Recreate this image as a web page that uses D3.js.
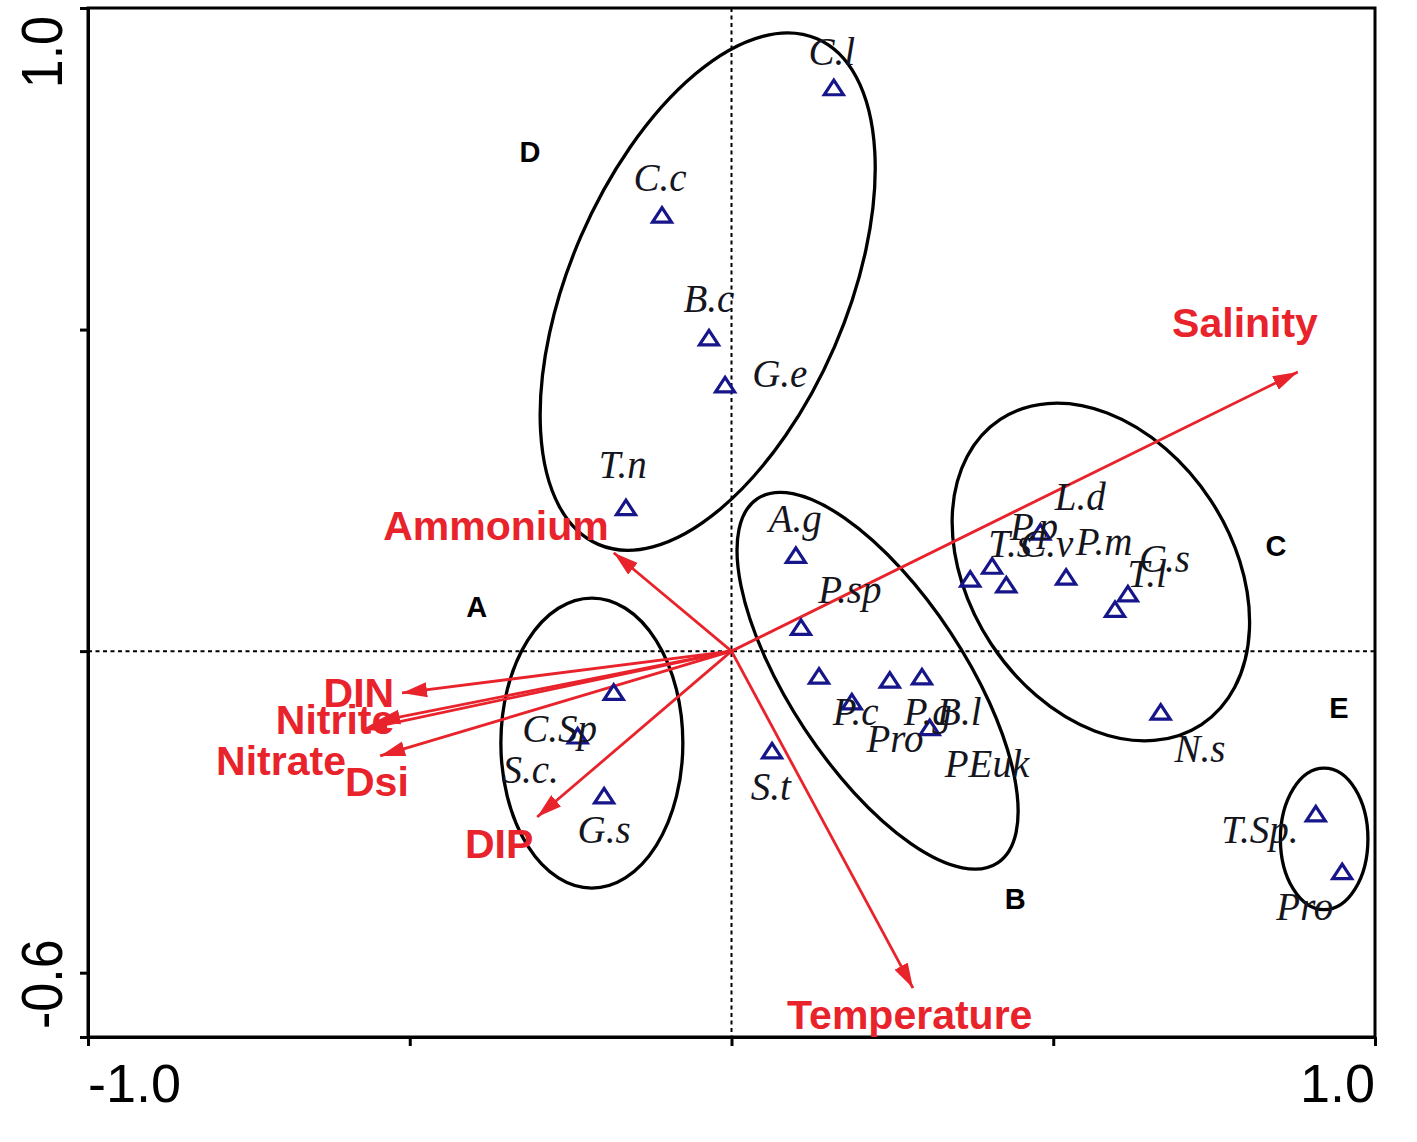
<!DOCTYPE html>
<html><head><meta charset="utf-8">
<script src="https://cdn.jsdelivr.net/npm/d3@7"></script>
<style>body{margin:0;background:#fff}</style>
</head><body>
<svg id="chart" width="1417" height="1142"></svg>
<script>
// ---------------- data (ordination scores, axis 1 / axis 2) ----------------
const speciesNames = ["C.l","C.c","B.c","G.e","T.n","A.g","P.sp","PEuk","P.c","Pro","B.l","P.g","S.t",
  "S.c.","C.Sp","G.s","T.s","C.v","L.d","P.p","P.m","T.l","C.s","N.s","T.Sp.","Pro"];
const speciesAxis1 = [0.159,-0.108,-0.035,-0.010,-0.164,0.100,0.108,0.136,0.187,0.246,0.296,0.308,0.063,
  -0.183,-0.239,-0.198,0.371,0.405,0.427,0.480,0.520,0.596,0.616,0.667,0.908,0.949];
const speciesAxis2 = [0.876,0.678,0.487,0.414,0.223,0.149,0.037,-0.039,-0.079,-0.045,-0.040,-0.119,-0.155,
  -0.064,-0.132,-0.225,0.112,0.132,0.103,0.185,0.115,0.065,0.089,-0.095,-0.253,-0.343];
// label anchor points (axis units)
const speciesLabelAxis1 = [0.156,-0.111,-0.035,0.075,-0.169,0.099,0.184,0.397,0.193,0.254,0.354,0.305,0.061,
  -0.312,-0.267,-0.198,0.433,0.490,0.542,0.470,0.579,0.646,0.673,0.728,0.821,0.891];
const speciesLabelAxis2 = [0.911,0.716,0.527,0.411,0.269,0.185,0.075,-0.196,-0.115,-0.157,-0.115,-0.115,-0.231,
  -0.205,-0.141,-0.298,0.146,0.146,0.219,0.173,0.149,0.100,0.123,-0.172,-0.298,-0.418];

const envNames = ["Salinity","Ammonium","DIN","Nitrite","Nitrate","Dsi","DIP","Temperature"];
const envAxis1 = [0.880,-0.183,-0.512,-0.554,-0.574,-0.546,-0.302,0.282];
const envAxis2 = [0.434,0.153,-0.065,-0.110,-0.122,-0.163,-0.258,-0.524];
const envLabelAxis1 = [0.798,-0.366,-0.579,-0.616,-0.700,-0.551,-0.361,0.277];
const envLabelAxis2 = [0.488,0.173,-0.087,-0.129,-0.192,-0.225,-0.322,-0.588];

const groupNames = ["A","B","C","D","E"];
const groupLabelAxis1 = [-0.396,0.441,0.846,-0.313,0.944];
const groupLabelAxis2 = [0.053,-0.401,0.148,0.760,-0.104];
// group ellipses: centre, semi-axes (axis units), rotation (deg, counter-clockwise)
const ellipseCx = [-0.217,0.227,0.574,-0.037,0.921];
const ellipseCy = [-0.143,-0.046,0.123,0.559,-0.292];
const ellipseRx = [0.1414,0.339,0.284,0.428,0.068];
const ellipseRy = [0.2255,0.136,0.204,0.215,0.110];
const ellipseAngle = [0,-56.6,-56.6,66.6,0];

const xTicks = [-1.0,-0.5,0,0.5,1.0];
const yTicks = [1.0,0.5,0,-0.5,-0.6];
const xTickLabels = [[-1.0,"-1.0"],[1.0,"1.0"]];
const yTickLabels = [[1.0,"1.0"],[-0.6,"-0.6"]];

// ---------------- drawing ----------------
const svg = d3.select("#chart");
const L = 88, R = 1375, T = 8, B = 1037;
const x = d3.scaleLinear().domain([-1,1]).range([L,R]);
const y = d3.scaleLinear().domain([-0.6,1.0]).range([B,T]);
const unitX = x(1)-x(0), unitY = y(0)-y(1);
const RED = "#e8232b", NAVY = "#16168a";

// dashed zero lines
svg.append("line").attr("x1",L).attr("x2",R).attr("y1",y(0)).attr("y2",y(0))
  .attr("stroke","#000").attr("stroke-width",2).attr("stroke-dasharray","4,3.5");
svg.append("line").attr("x1",x(0)).attr("x2",x(0)).attr("y1",T).attr("y2",B)
  .attr("stroke","#000").attr("stroke-width",2).attr("stroke-dasharray","4,3.5");

// axes
const gx = svg.append("g").attr("transform",`translate(0,${B})`)
  .call(d3.axisBottom(x).tickValues(xTicks).tickSize(9).tickSizeOuter(0).tickFormat(""));
const gy = svg.append("g").attr("transform",`translate(${L},0)`)
  .call(d3.axisLeft(y).tickValues(yTicks).tickSize(8).tickSizeOuter(0).tickFormat(""));
[gx,gy].forEach(g=>{g.selectAll("line").attr("stroke","#000").attr("stroke-width",3);
  g.select(".domain").attr("stroke","#000").attr("stroke-width",3);});
svg.append("rect").attr("x",L).attr("y",T).attr("width",R-L).attr("height",B-T)
  .attr("fill","none").attr("stroke","#000").attr("stroke-width",3);

svg.selectAll(".xtl").data(xTickLabels).enter().append("text")
  .attr("x",d=>x(d[0])).attr("y",1102)
  .attr("text-anchor",d=>d[0]<0?"start":"end")
  .attr("font-family","Liberation Sans, Arial, sans-serif").attr("font-size",54)
  .attr("fill","#000").text(d=>d[1]);
svg.selectAll(".ytl").data(yTickLabels).enter().append("text")
  .attr("transform",d=>`translate(62,${y(d[0]) + (d[0]>0?8:-8)}) rotate(-90) scale(1,1.12)`)
  .attr("text-anchor",d=>d[0]>0?"end":"start")
  .attr("font-family","Liberation Sans, Arial, sans-serif").attr("font-size",52)
  .attr("fill","#000").text(d=>d[1]);

// ellipses
svg.selectAll(".grp").data(groupNames).enter().append("ellipse")
  .attr("transform",(d,i)=>`translate(${x(ellipseCx[i])},${y(ellipseCy[i])}) rotate(${-ellipseAngle[i]})`)
  .attr("rx",(d,i)=>ellipseRx[i]*unitX).attr("ry",(d,i)=>ellipseRy[i]*unitY)
  .attr("fill","none").attr("stroke","#000").attr("stroke-width",3.3);

// arrows
svg.append("defs").append("marker").attr("id","ah")
  .attr("markerUnits","userSpaceOnUse").attr("viewBox","0 -8 26 16")
  .attr("refX",25).attr("refY",0).attr("markerWidth",26).attr("markerHeight",16)
  .attr("orient","auto")
  .append("path").attr("d","M0,-7.5L25,0L0,7.5Z").attr("fill",RED);
svg.selectAll(".env").data(envNames).enter().append("line")
  .attr("x1",x(0)).attr("y1",y(0))
  .attr("x2",(d,i)=>x(envAxis1[i])).attr("y2",(d,i)=>y(envAxis2[i]))
  .attr("stroke",RED).attr("stroke-width",2.8).attr("marker-end","url(#ah)");

// species triangles
const tri = "M0,-7.5L9.5,7L-9.5,7Z";
svg.selectAll(".sp").data(speciesNames).enter().append("path")
  .attr("d",tri)
  .attr("transform",(d,i)=>`translate(${x(speciesAxis1[i])},${y(speciesAxis2[i])})`)
  .attr("fill","none").attr("stroke",NAVY).attr("stroke-width",3.2).attr("stroke-linejoin","miter");

// species labels
svg.selectAll(".spl").data(speciesNames).enter().append("text")
  .attr("x",(d,i)=>x(speciesLabelAxis1[i])).attr("y",(d,i)=>y(speciesLabelAxis2[i]))
  .attr("text-anchor","middle")
  .attr("font-family","Liberation Serif, Times New Roman, serif").attr("font-style","italic")
  .attr("font-size",39).attr("fill","#151520").text(d=>d);

// env labels
svg.selectAll(".envl").data(envNames).enter().append("text")
  .attr("x",(d,i)=>x(envLabelAxis1[i])).attr("y",(d,i)=>y(envLabelAxis2[i]))
  .attr("text-anchor","middle")
  .attr("font-family","Liberation Sans, Arial, sans-serif").attr("font-weight","bold")
  .attr("font-size",41).attr("fill",RED).text(d=>d);

// group letters
svg.selectAll(".gl").data(groupNames).enter().append("text")
  .attr("x",(d,i)=>x(groupLabelAxis1[i])).attr("y",(d,i)=>y(groupLabelAxis2[i]))
  .attr("text-anchor","middle")
  .attr("font-family","Liberation Sans, Arial, sans-serif").attr("font-weight","bold")
  .attr("font-size",29).attr("fill","#000").text(d=>d);
</script>
</body></html>
